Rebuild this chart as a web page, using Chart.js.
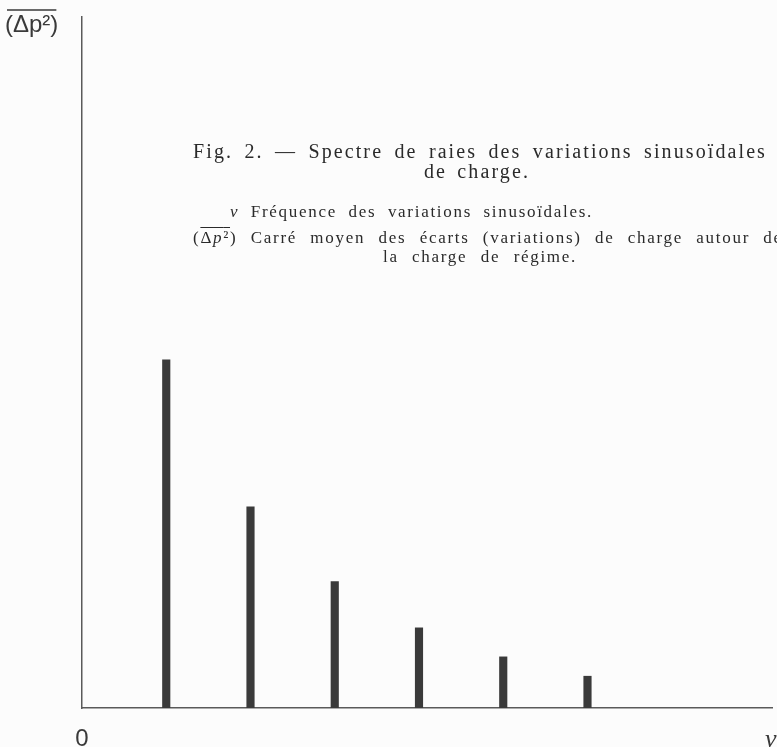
<!DOCTYPE html>
<html lang="fr">
<head>
<meta charset="utf-8">
<title>Spectre de raies des variations sinusoïdales de charge</title>
<style>
  body{margin:0;background:#fcfcfc;overflow:hidden;}
  #wrap{position:relative;width:777px;height:747px;overflow:hidden;}
  #myChart{position:absolute;left:0;top:0;}
  .cap{position:absolute;white-space:nowrap;font-family:"Liberation Serif","DejaVu Serif",serif;color:#2a2a2a;line-height:1;}
  .big{font-size:20px;letter-spacing:2.1px;}
  .small{font-size:17px;letter-spacing:1.7px;}
  .ov{text-decoration:overline;}
</style>
<script src="https://cdn.jsdelivr.net/npm/chart.js"></script>
</head>
<body>
<div id="wrap">
  <canvas id="myChart" width="777" height="747"></canvas>

  <!-- caption of the figure, each line pinned to where it sits in the scan -->
  <div class="cap big" data-l="193" data-r="767" data-b="158"><span class="fit">Fig. 2. — Spectre de raies des variations sinusoïdales</span></div>
  <div class="cap big" data-l="424" data-r="530" data-b="178"><span class="fit">de charge.</span></div>
  <div class="cap small" data-l="230" data-r="593" data-b="217"><span class="fit"><i>ν</i> Fréquence des variations sinusoïdales.</span></div>
  <div class="cap small" data-l="193" data-r="750" data-b="243"><span class="fit">(<span class="ov">Δ<i>p</i>²</span>) Carré moyen des écarts (variations) de charge autour</span> de</div>
  <div class="cap small" data-l="383" data-r="577" data-b="262"><span class="fit">la charge de régime.</span></div>
</div>

<script>
// harmonic order of the sinusoidal load variation (frequency axis, arbitrary units)
const harmonics = [1, 2, 3, 4, 5, 6];
// mean square of the load deviations, arbitrary units
const meanSquare = [50.4, 29.1, 18.3, 11.6, 7.4, 4.6];
const xMax = 8.19;
const yMax = 100;

const xLabel = 'ν';
const zeroLabel = '0';
const yLabel = '(Δp²)';

// place and stretch the caption lines (the scan is a justified, wide serif)
document.querySelectorAll('.cap').forEach(el => {
  const fs = parseFloat(getComputedStyle(el).fontSize);
  el.style.left = el.dataset.l + 'px';
  el.style.top = (el.dataset.b - fs * 0.8375) + 'px';
  const fit = el.querySelector('.fit');
  const gaps = fit.textContent.split(' ').length - 1;
  el.style.wordSpacing = '0px';
  const w = fit.getBoundingClientRect().width;
  const target = el.dataset.r - el.dataset.l;
  if (gaps > 0) el.style.wordSpacing = Math.max(0, (target - w) / gaps) + 'px';
});

// axis labels: 0 at the origin, nu at the end of the x axis, (Δp²) at the top
const axisLabels = {
  id: 'axisLabels',
  afterDraw(chart) {
    const {ctx, scales: {x, y}} = chart;
    ctx.save();
    ctx.fillStyle = '#3a3a3a';
    ctx.textBaseline = 'alphabetic';
    ctx.font = '24px "Liberation Sans", Arial, sans-serif';
    ctx.textAlign = 'center';
    ctx.fillText(zeroLabel, x.getPixelForValue(0), y.bottom + 38);

    ctx.font = 'italic 26px "Liberation Serif", serif';
    ctx.textAlign = 'left';
    ctx.fillText(xLabel, x.getPixelForValue(xMax) - 7, y.bottom + 39);

    ctx.font = '24px "Liberation Sans", Arial, sans-serif';
    ctx.fillText(yLabel, 5, y.top + 15);
    const w = ctx.measureText(yLabel).width;
    ctx.strokeStyle = '#3a3a3a';
    ctx.lineWidth = 1.5;
    ctx.beginPath();
    ctx.moveTo(7, 10);
    ctx.lineTo(3 + w, 10);
    ctx.stroke();
    ctx.restore();
  }
};

const ctx = document.getElementById('myChart');
const ch = new Chart(ctx, {
  type: 'bar',
  data: {
    datasets: [{
      label: 'Carré moyen des écarts',
      data: harmonics.map((h, i) => ({x: h, y: meanSquare[i]})),
      backgroundColor: '#3a3a3a',
      borderWidth: 0,
      barThickness: 7.5
    }]
  },
  options: {
    responsive: false,
    animation: false,
    layout: {padding: {left: 74, top: 17, right: 5, bottom: 31}},
    plugins: {
      legend: {display: false},
      tooltip: {enabled: false}
    },
    scales: {
      x: {
        type: 'linear',
        min: 0,
        max: xMax,
        offset: false,
        grid: {display: false, offset: false},
        ticks: {display: false},
        border: {display: true, color: '#5a5a5a', width: 1.5}
      },
      y: {
        min: 0,
        max: yMax,
        grid: {display: false},
        ticks: {display: false},
        border: {display: true, color: '#5a5a5a', width: 1.5}
      }
    }
  },
  plugins: [axisLabels]
});
</script>
</body>
</html>
